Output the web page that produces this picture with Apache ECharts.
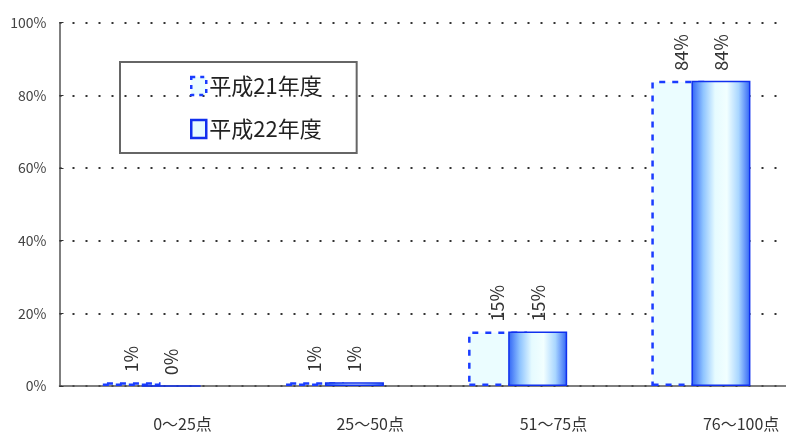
<!DOCTYPE html>
<html><head><meta charset="utf-8">
<script src="https://cdn.jsdelivr.net/npm/echarts@6/dist/echarts.min.js"></script>
<style>html,body{margin:0;padding:0;background:#fff}#c{width:786px;height:435px}</style>
</head><body><div id="c"></div>
<script>
var categories = ['0～25点', '25～50点', '51～75点', '76～100点'];
var seriesNames = ['平成21年度', '平成22年度'];
var valuesH21 = [1, 1, 15, 84];
var valuesH22 = [0, 1, 15, 84];
var yTicks = [0, 20, 40, 60, 80, 100];

var FONT = '"Noto Sans CJK JP", "Noto Sans", sans-serif';
var chart = echarts.init(document.getElementById('c'), null, {renderer: 'canvas'});
var labelCfg = {
  show: true, position: 'top', rotate: 90, align: 'left', verticalAlign: 'middle',
  distance: 10, fontSize: 18, color: '#333', fontFamily: FONT,
  formatter: function (p) { return Math.round(p.value) + '%'; }
};
var dashStyle = {color: '#ebfdff', borderColor: '#1a3cff', borderWidth: 2.5, borderType: [6, 7]};
chart.setOption({
  animation: false,
  backgroundColor: '#fff',
  grid: {left: 59.5, width: 733, top: 22.7, bottom: 49, containLabel: false, outerBoundsMode: 'none'},
  legend: {
    orient: 'vertical', left: 120, top: 62,
    padding: [13, 35, 13, 70],
    borderColor: '#666', borderWidth: 2,
    itemWidth: 15, itemHeight: 18, itemGap: 21,
    icon: 'rect',
    textStyle: {fontSize: 22, color: '#222', fontFamily: FONT, padding: [0, 0, 0, -2]},
    data: [
      {name: seriesNames[0], itemStyle: {color: '#ebfdff', borderColor: '#1a3cff', borderWidth: 2.5, borderType: [4, 5]}},
      {name: seriesNames[1], itemStyle: {color: '#e6fbff', borderColor: '#1030ee', borderWidth: 2.5}}
    ]
  },
  xAxis: {
    type: 'category', data: categories,
    axisLine: {lineStyle: {color: '#555', width: 1.5}},
    axisTick: {inside: true, length: 5, lineStyle: {color: '#555'}},
    axisLabel: {align: 'left', margin: 30, fontSize: 16, color: '#333', fontFamily: FONT, padding: [0, 0, 0, 2]},
    splitLine: {show: false}
  },
  yAxis: {
    type: 'value', min: 0, max: 100, interval: 20,
    axisLine: {show: true, lineStyle: {color: '#555', width: 1.5}},
    axisTick: {show: true, inside: true, length: 4, lineStyle: {color: '#333'}},
    axisLabel: {margin: 13, fontSize: 14, color: '#444', fontFamily: FONT,
      formatter: function (v) { return yTicks.indexOf(v) >= 0 ? v + '%' : ''; }},
    splitLine: {show: true, lineStyle: {color: '#333', width: 2, type: [2, 11]}}
  },
  series: [
    {
      name: seriesNames[0], type: 'bar', data: valuesH21,
      barWidth: 59, barGap: '-32%',
      itemStyle: dashStyle,
      label: labelCfg, z: 2
    },
    {
      name: seriesNames[1], type: 'bar', data: valuesH22,
      barWidth: 59,
      itemStyle: {
        color: new echarts.graphic.LinearGradient(0, 0, 1, 0, [
          {offset: 0, color: '#2f62f5'},
          {offset: 0.2, color: '#8fc4ff'},
          {offset: 0.4, color: '#e6fbff'},
          {offset: 0.6, color: '#f2ffff'},
          {offset: 0.8, color: '#a9d6ff'},
          {offset: 1, color: '#2f62f5'}
        ]),
        borderColor: '#1030ee', borderWidth: 1.5
      },
      label: labelCfg, z: 3
    }
  ]
});
</script></body></html>
